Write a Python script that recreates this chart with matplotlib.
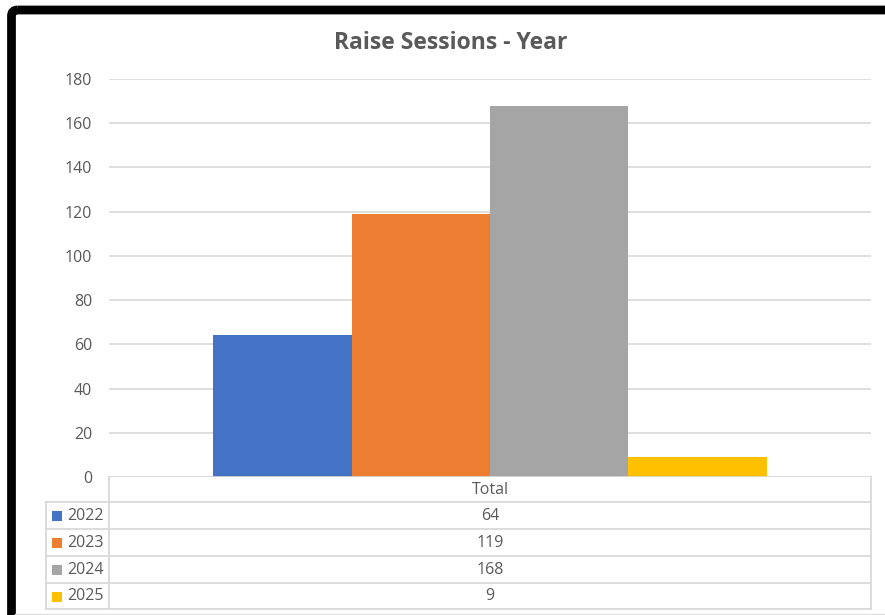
import matplotlib
matplotlib.use("Agg")
import matplotlib.pyplot as plt
from matplotlib.patches import FancyBboxPatch, Rectangle
from matplotlib.lines import Line2D

# Data
years = ["2022", "2023", "2024", "2025"]
sessions = [64, 119, 168, 9]
category = "Total"
colors = ["#4472C4", "#ED7D31", "#A5A5A5", "#FFC000"]
yticks = [0, 20, 40, 60, 80, 100, 120, 140, 160, 180]
title = "Raise Sessions - Year"

W, H = 885, 615
FONT = "Open Sans"
TEXT = "#595959"
GRID = "#D9D9D9"

fig = plt.figure(figsize=(W / 100, H / 100), dpi=100)
fig.patch.set_facecolor("white")

def fx(px):
    return px / W

def fy(py):
    return 1 - py / H

# Plot area
left, right, top, bottom = 109, 871, 79, 477
ax = fig.add_axes([fx(left), fy(bottom), fx(right - left), (bottom - top) / H])
ax.set_xlim(-0.5, 0.5)
ax.set_ylim(0, 180)
bar_w = 0.727 / len(years)
for i, (yr, v, c) in enumerate(zip(years, sessions, colors)):
    x = -0.727 / 2 + bar_w * (i + 0.5)
    ax.bar(x, v, width=bar_w, color=c, zorder=3, linewidth=0)
ax.set_yticks(yticks)
ax.set_yticklabels([str(t) for t in yticks], fontfamily=FONT, fontsize=11.5, color=TEXT)
ax.tick_params(axis="y", length=0, pad=12)
ax.set_xticks([])
ax.grid(axis="y", color=GRID, linewidth=1.2, zorder=0)
for s in ax.spines.values():
    s.set_visible(False)
ax.axhline(0, color=GRID, linewidth=1.2, zorder=4)

# Overlay in pixel coordinates for the frame and data table
ov = fig.add_axes([0, 0, 1, 1], zorder=5)
ov.set_xlim(0, W)
ov.set_ylim(H, 0)
ov.axis("off")
ov.patch.set_alpha(0)

# Dark frame (top and left edges)
ov.add_patch(FancyBboxPatch((11.5, 10), W + 40, H + 40,
                            boxstyle="round,pad=0,rounding_size=6",
                            fill=False, edgecolor="black", linewidth=6.3))
ov.add_line(Line2D([15, W], [613.5, 613.5], color="#E0E0E0", linewidth=1))

ov.text(451, 43, title, fontfamily=FONT, fontweight="bold", fontsize=16.5,
        color=TEXT, ha="center", va="center")

# Data table
row_tops = [502, 529, 556, 583, 609]
lw = 1.3
ov.add_line(Line2D([left, left], [477, 609], color=GRID, linewidth=lw))
ov.add_line(Line2D([right, right], [477, 609], color=GRID, linewidth=lw))
ov.add_line(Line2D([46, 46], [502, 609], color=GRID, linewidth=lw))
for y in row_tops:
    ov.add_line(Line2D([46, right], [y, y], color=GRID, linewidth=lw))

ov.text((left + right) / 2, 489.5, category, fontfamily=FONT, fontsize=11.5,
        color=TEXT, ha="center", va="center")
for i, (yr, v, c) in enumerate(zip(years, sessions, colors)):
    yc = (row_tops[i] + row_tops[i + 1]) / 2 + 0.5
    ov.add_patch(Rectangle((52, yc - 5), 10, 10, facecolor=c, edgecolor="none"))
    ov.text(67, yc, yr, fontfamily=FONT, fontsize=11.5, color=TEXT,
            ha="left", va="center")
    ov.text((left + right) / 2, yc, str(v), fontfamily=FONT, fontsize=11.5,
            color=TEXT, ha="center", va="center")

fig.savefig("out.png", dpi=100, facecolor="white")
